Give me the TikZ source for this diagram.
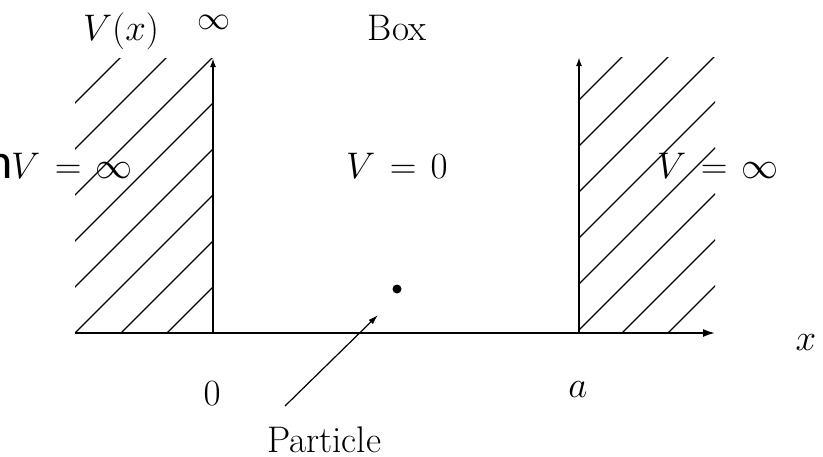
\RequirePackage{fix-cm}
\documentclass[tikz,border=0pt]{standalone}
\usepackage{fontspec}
\newfontfamily\calib{Carlito}
\usetikzlibrary{arrows.meta}
\thickmuskip=7mu\relax
\tikzset{
  lbl/.style={inner sep=0pt, font=\fontsize{37}{44}\selectfont},
  axisline/.style={line width=1.8pt},
  hatch/.style={line width=1.2pt},
  tipbig/.style={-{Latex[length=12pt,width=8pt]}},
  tipsmall/.style={-{Latex[length=9pt,width=6pt]}}
}
\begin{document}
\begin{tikzpicture}[x=1pt,y=-1pt]
\useasboundingbox (0,0) rectangle (823,456);
% key points
\coordinate (L) at (75,333);
\coordinate (O) at (213,333);
\coordinate (A) at (579,333);
\coordinate (X) at (715,333);
\coordinate (TL) at (213,58);
\coordinate (TR) at (579,57);
\coordinate (P1) at (285,406);
\coordinate (P2) at (378,315);
% hatching left
\begin{scope}
  \clip (75,58) rectangle (213,333);
  \foreach \c in {178,224,270,316,362,408,454,500}
    \draw[hatch] (\c-400,400) -- (\c,0);
\end{scope}
% hatching right
\begin{scope}
  \clip (579,57) rectangle (715,333);
  \foreach \c in {679,725,771,817,863,909,955,1001}
    \draw[hatch] (\c-400,400) -- (\c,0);
\end{scope}
% axes
\draw[axisline,tipbig] (L) -- (X);
\draw[axisline,tipsmall] (O) -- (TL);
\draw[axisline,tipsmall] (A) -- (TR);
% particle
\node[circle, fill, inner sep=0pt, minimum size=9pt] (dot) at (397,289) {};
\draw[hatch,-{Latex[length=10pt,width=6pt]}] (P1) -- (P2);
% labels
\node[lbl, anchor=base] (Vx) at (121,40) {$V(x)$};
\node[inner sep=0pt, font=\fontsize{33}{40}\selectfont, anchor=base] (inf) at (214,29) {$\infty$};
\node[lbl, anchor=base] (box) at (397,40) {Box};
\node[lbl, anchor=base] (V0) at (397,178) {$V=0$};
\node[lbl, anchor=base east] (Vl) at (133,178) {$V=\infty$};
\node[lbl, anchor=base west] (Vr) at (657,178) {$V=\infty$};
\node[inner sep=0pt, anchor=base east, font=\calib\fontsize{50}{60}\selectfont] (n) at (13,178) {n};
\node[lbl, anchor=base] (zero) at (212,405) {$0$};
\node[lbl, anchor=base] (alab) at (578,397) {$a$};
\node[lbl, anchor=base] (xlab) at (806,350) {$x$};
\node[lbl, anchor=base] (part) at (324,452) {Particle};
\end{tikzpicture}
\end{document}
